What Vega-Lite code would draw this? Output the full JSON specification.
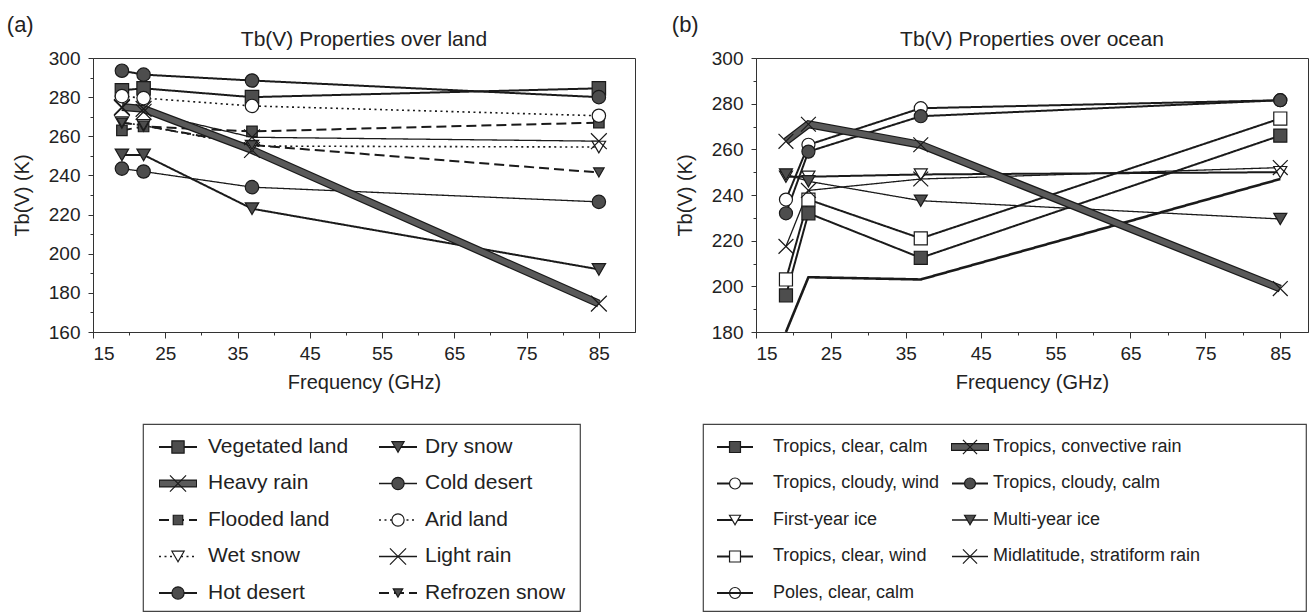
{
  "$schema": "https://vega.github.io/schema/vega-lite/v6.json",
  "background": "white",
  "padding": {"left": 6, "top": 13, "right": 0, "bottom": 0},
  "config": {
    "font": "Liberation Sans",
    "view": {"stroke": "#333", "strokeWidth": 1},
    "axis": {"labelFont": "Liberation Sans", "titleFont": "Liberation Sans", "labelFontSize": 19, "titleFontSize": 20, "titleFontWeight": "normal", "labelColor": "#222", "titleColor": "#222", "domainColor": "#333", "tickColor": "#333", "grid": false},
    "title": {"font": "Liberation Sans", "fontSize": 21, "fontWeight": "normal", "color": "#222"}
  },
  "datasets": {
    "land": [
      {"series": "Vegetated land", "freq": 19, "tb": 283.5}, {"series": "Vegetated land", "freq": 22, "tb": 284.5}, {"series": "Vegetated land", "freq": 37, "tb": 280}, {"series": "Vegetated land", "freq": 85, "tb": 284.5},
      {"series": "Heavy rain", "freq": 19, "tb": 275}, {"series": "Heavy rain", "freq": 22, "tb": 274}, {"series": "Heavy rain", "freq": 37, "tb": 253}, {"series": "Heavy rain", "freq": 85, "tb": 174.5},
      {"series": "Flooded land", "freq": 19, "tb": 263}, {"series": "Flooded land", "freq": 22, "tb": 265}, {"series": "Flooded land", "freq": 37, "tb": 262.5}, {"series": "Flooded land", "freq": 85, "tb": 267},
      {"series": "Wet snow", "freq": 19, "tb": 267}, {"series": "Wet snow", "freq": 22, "tb": 265.5}, {"series": "Wet snow", "freq": 37, "tb": 255}, {"series": "Wet snow", "freq": 85, "tb": 254.5},
      {"series": "Hot desert", "freq": 19, "tb": 293.5}, {"series": "Hot desert", "freq": 22, "tb": 291.5}, {"series": "Hot desert", "freq": 37, "tb": 288.5}, {"series": "Hot desert", "freq": 85, "tb": 280},
      {"series": "Dry snow", "freq": 19, "tb": 250.5}, {"series": "Dry snow", "freq": 22, "tb": 250.5}, {"series": "Dry snow", "freq": 37, "tb": 223}, {"series": "Dry snow", "freq": 85, "tb": 192},
      {"series": "Cold desert", "freq": 19, "tb": 243.5}, {"series": "Cold desert", "freq": 22, "tb": 242}, {"series": "Cold desert", "freq": 37, "tb": 234}, {"series": "Cold desert", "freq": 85, "tb": 226.5},
      {"series": "Arid land", "freq": 19, "tb": 280.5}, {"series": "Arid land", "freq": 22, "tb": 279.5}, {"series": "Arid land", "freq": 37, "tb": 275.5}, {"series": "Arid land", "freq": 85, "tb": 270.5},
      {"series": "Light rain", "freq": 19, "tb": 274.5}, {"series": "Light rain", "freq": 22, "tb": 272.5}, {"series": "Light rain", "freq": 37, "tb": 259.5}, {"series": "Light rain", "freq": 85, "tb": 257.5},
      {"series": "Refrozen snow", "freq": 19, "tb": 267}, {"series": "Refrozen snow", "freq": 22, "tb": 265.5}, {"series": "Refrozen snow", "freq": 37, "tb": 255.5}, {"series": "Refrozen snow", "freq": 85, "tb": 241.5}
    ],
    "ocean": [
      {"series": "Tropics, clear, calm", "freq": 19, "tb": 196}, {"series": "Tropics, clear, calm", "freq": 22, "tb": 232}, {"series": "Tropics, clear, calm", "freq": 37, "tb": 212.5}, {"series": "Tropics, clear, calm", "freq": 85, "tb": 266},
      {"series": "Tropics, cloudy, wind", "freq": 19, "tb": 238}, {"series": "Tropics, cloudy, wind", "freq": 22, "tb": 262}, {"series": "Tropics, cloudy, wind", "freq": 37, "tb": 278}, {"series": "Tropics, cloudy, wind", "freq": 85, "tb": 281.5},
      {"series": "First-year ice", "freq": 19, "tb": 248}, {"series": "First-year ice", "freq": 22, "tb": 248}, {"series": "First-year ice", "freq": 37, "tb": 249}, {"series": "First-year ice", "freq": 85, "tb": 250},
      {"series": "Tropics, clear, wind", "freq": 19, "tb": 203}, {"series": "Tropics, clear, wind", "freq": 22, "tb": 238}, {"series": "Tropics, clear, wind", "freq": 37, "tb": 221}, {"series": "Tropics, clear, wind", "freq": 85, "tb": 273.5},
      {"series": "Poles, clear, calm", "freq": 19, "tb": 180}, {"series": "Poles, clear, calm", "freq": 22, "tb": 204}, {"series": "Poles, clear, calm", "freq": 37, "tb": 203}, {"series": "Poles, clear, calm", "freq": 85, "tb": 247},
      {"series": "Tropics, convective rain", "freq": 19, "tb": 263.5}, {"series": "Tropics, convective rain", "freq": 22, "tb": 271}, {"series": "Tropics, convective rain", "freq": 37, "tb": 262}, {"series": "Tropics, convective rain", "freq": 85, "tb": 199},
      {"series": "Tropics, cloudy, calm", "freq": 19, "tb": 232}, {"series": "Tropics, cloudy, calm", "freq": 22, "tb": 259}, {"series": "Tropics, cloudy, calm", "freq": 37, "tb": 274.5}, {"series": "Tropics, cloudy, calm", "freq": 85, "tb": 281.5},
      {"series": "Multi-year ice", "freq": 19, "tb": 249}, {"series": "Multi-year ice", "freq": 22, "tb": 246}, {"series": "Multi-year ice", "freq": 37, "tb": 237.5}, {"series": "Multi-year ice", "freq": 85, "tb": 229.5},
      {"series": "Midlatitude, stratiform rain", "freq": 19, "tb": 217.5}, {"series": "Midlatitude, stratiform rain", "freq": 22, "tb": 242}, {"series": "Midlatitude, stratiform rain", "freq": 37, "tb": 247}, {"series": "Midlatitude, stratiform rain", "freq": 85, "tb": 252}
    ],
    "legA": [
      {"series": "Vegetated land", "col": 1, "row": 1}, {"series": "Heavy rain", "col": 1, "row": 2}, {"series": "Flooded land", "col": 1, "row": 3}, {"series": "Wet snow", "col": 1, "row": 4}, {"series": "Hot desert", "col": 1, "row": 5},
      {"series": "Dry snow", "col": 2, "row": 1}, {"series": "Cold desert", "col": 2, "row": 2}, {"series": "Arid land", "col": 2, "row": 3}, {"series": "Light rain", "col": 2, "row": 4}, {"series": "Refrozen snow", "col": 2, "row": 5}
    ],
    "legB": [
      {"series": "Tropics, clear, calm", "col": 1, "row": 1}, {"series": "Tropics, cloudy, wind", "col": 1, "row": 2}, {"series": "First-year ice", "col": 1, "row": 3}, {"series": "Tropics, clear, wind", "col": 1, "row": 4}, {"series": "Poles, clear, calm", "col": 1, "row": 5},
      {"series": "Tropics, convective rain", "col": 2, "row": 1}, {"series": "Tropics, cloudy, calm", "col": 2, "row": 2}, {"series": "Multi-year ice", "col": 2, "row": 3}, {"series": "Midlatitude, stratiform rain", "col": 2, "row": 4}
    ]
  },
  "vconcat": [
    {
      "hconcat": [
        {
          "title": {"text": "(a)", "anchor": "start", "frame": "bounds", "offset": -8, "dx": -5, "fontSize": 22},
          "vconcat": [
            {
              "title": {"text": "Tb(V) Properties over land", "offset": -1},
              "width": 542, "height": 274,
              "data": {"name": "land"},
              "layer": [
                {
                  "transform": [{"filter": "datum.series !== 'Heavy rain'"}],
                  "mark": {"type": "line", "stroke": "#1a1a1a"},
                  "encoding": {
                    "x": {"field": "freq", "type": "quantitative", "scale": {"domain": [15, 90], "nice": false, "zero": false}, "axis": {"orient": "bottom", "values": [15, 25, 35, 45, 55, 65, 75, 85], "format": "d", "title": "Frequency (GHz)", "tickSize": 6, "labelPadding": 6, "titlePadding": 9, "encode": {"ticks": {"update": {"y": {"value": -5}}}}}},
                    "y": {"field": "tb", "type": "quantitative", "scale": {"domain": [160, 300], "nice": false, "zero": false}, "axis": {"orient": "left", "values": [160, 180, 200, 220, 240, 260, 280, 300], "title": "Tb(V) (K)", "tickSize": 5, "labelPadding": 8, "titlePadding": 16, "encode": {"ticks": {"update": {"x": {"value": 5}}}}}},
                    "detail": {"field": "series", "type": "nominal"},
                    "strokeDash": {"field": "series", "type": "nominal", "legend": null, "scale": {"domain": ["Vegetated land","Heavy rain","Flooded land","Wet snow","Hot desert","Dry snow","Cold desert","Arid land","Light rain","Refrozen snow","Tropics, clear, calm","Tropics, cloudy, wind","First-year ice","Tropics, clear, wind","Poles, clear, calm","Tropics, convective rain","Tropics, cloudy, calm","Multi-year ice","Midlatitude, stratiform rain"], "range": [[1,0],[1,0],[10,5],[2,3.5],[1,0],[1,0],[1,0],[2,3.5],[1,0],[10,5],[1,0],[1,0],[1,0],[1,0],[1,0],[1,0],[1,0],[1,0],[1,0]]}},
                    "strokeWidth": {"condition": [{"test": "indexof(['Cold desert','Light rain','Multi-year ice','Midlatitude, stratiform rain'], datum.series) >= 0", "value": 1.3}, {"test": "indexof(['Wet snow','Arid land'], datum.series) >= 0", "value": 1.6}, {"test": "datum.series === 'Poles, clear, calm'", "value": 2.6}], "value": 2}
                  }
                },
                {
                  "transform": [{"filter": "datum.series === 'Heavy rain'"}],
                  "mark": {"type": "line", "stroke": "#1a1a1a", "strokeWidth": 8},
                  "encoding": {"x": {"field": "freq", "type": "quantitative", "axis": null}, "y": {"field": "tb", "type": "quantitative", "axis": null}}
                },
                {
                  "transform": [{"filter": "datum.series === 'Heavy rain'"}],
                  "mark": {"type": "line", "stroke": "#5a5a5a", "strokeWidth": 5.5},
                  "encoding": {"x": {"field": "freq", "type": "quantitative", "axis": null}, "y": {"field": "tb", "type": "quantitative", "axis": null}}
                },
                {
                  "mark": {"type": "point", "filled": true, "stroke": "#1a1a1a", "strokeWidth": 1.2, "opacity": 1},
                  "encoding": {
                    "x": {"field": "freq", "type": "quantitative", "axis": {"orient": "bottom", "values": [20, 30, 40, 50, 60, 70, 80], "labels": false, "domain": false, "title": null, "tickSize": 3, "encode": {"ticks": {"update": {"y": {"value": -3}}}}}},
                    "y": {"field": "tb", "type": "quantitative", "axis": {"orient": "left", "values": [170, 190, 210, 230, 250, 270, 290], "labels": false, "domain": false, "title": null, "tickSize": 3, "encode": {"ticks": {"update": {"x": {"value": 3}}}}}},
                    "shape": {"field": "series", "type": "nominal", "legend": null, "scale": {"domain": ["Vegetated land","Heavy rain","Flooded land","Wet snow","Hot desert","Dry snow","Cold desert","Arid land","Light rain","Refrozen snow","Tropics, clear, calm","Tropics, cloudy, wind","First-year ice","Tropics, clear, wind","Poles, clear, calm","Tropics, convective rain","Tropics, cloudy, calm","Multi-year ice","Midlatitude, stratiform rain"], "range": ["square","M-1,-1L1,1M-1,1L1,-1","square","triangle-down","circle","triangle-down","circle","circle","M-1,-1L1,1M-1,1L1,-1","triangle-down","square","circle","triangle-down","square","circle","M-1,-1L1,1M-1,1L1,-1","circle","triangle-down","M-1,-1L1,1M-1,1L1,-1"]}},
                    "fill": {"field": "series", "type": "nominal", "legend": null, "scale": {"domain": ["Vegetated land","Heavy rain","Flooded land","Wet snow","Hot desert","Dry snow","Cold desert","Arid land","Light rain","Refrozen snow","Tropics, clear, calm","Tropics, cloudy, wind","First-year ice","Tropics, clear, wind","Poles, clear, calm","Tropics, convective rain","Tropics, cloudy, calm","Multi-year ice","Midlatitude, stratiform rain"], "range": ["#4d4d4d","transparent","#4d4d4d","white","#4d4d4d","#4d4d4d","#4d4d4d","white","transparent","#4d4d4d","#4d4d4d","white","white","white","transparent","transparent","#4d4d4d","#4d4d4d","transparent"]}},
                    "size": {"condition": [{"test": "indexof(['Flooded land','Refrozen snow'], datum.series) >= 0", "value": 110}, {"test": "indexof(['Heavy rain','Light rain','Tropics, convective rain','Midlatitude, stratiform rain'], datum.series) >= 0", "value": 250}], "value": 180}
                  }
                }
              ],
              "resolve": {"axis": {"x": "independent", "y": "independent"}}
            }
          ]
        },
        {
          "title": {"text": "(b)", "anchor": "start", "frame": "bounds", "offset": -8, "dx": -3, "fontSize": 22},
          "vconcat": [
            {
              "title": {"text": "Tb(V) Properties over ocean", "offset": -1},
              "width": 552, "height": 274,
              "data": {"name": "ocean"},
              "layer": [
                {
                  "transform": [{"filter": "datum.series !== 'Tropics, convective rain'"}],
                  "mark": {"type": "line", "stroke": "#1a1a1a", "clip": true},
                  "encoding": {
                    "x": {"field": "freq", "type": "quantitative", "scale": {"domain": [15, 88.7], "nice": false, "zero": false}, "axis": {"orient": "bottom", "values": [15, 25, 35, 45, 55, 65, 75, 85], "format": "d", "title": "Frequency (GHz)", "tickSize": 6, "labelPadding": 6, "titlePadding": 9, "encode": {"ticks": {"update": {"y": {"value": -5}}}}}},
                    "y": {"field": "tb", "type": "quantitative", "scale": {"domain": [180, 300], "nice": false, "zero": false}, "axis": {"orient": "left", "values": [180, 200, 220, 240, 260, 280, 300], "title": "Tb(V) (K)", "tickSize": 5, "labelPadding": 8, "titlePadding": 16, "encode": {"ticks": {"update": {"x": {"value": 5}}}}}},
                    "detail": {"field": "series", "type": "nominal"},
                    "strokeDash": {"field": "series", "type": "nominal", "legend": null, "scale": {"domain": ["Vegetated land","Heavy rain","Flooded land","Wet snow","Hot desert","Dry snow","Cold desert","Arid land","Light rain","Refrozen snow","Tropics, clear, calm","Tropics, cloudy, wind","First-year ice","Tropics, clear, wind","Poles, clear, calm","Tropics, convective rain","Tropics, cloudy, calm","Multi-year ice","Midlatitude, stratiform rain"], "range": [[1,0],[1,0],[10,5],[2,3.5],[1,0],[1,0],[1,0],[2,3.5],[1,0],[10,5],[1,0],[1,0],[1,0],[1,0],[1,0],[1,0],[1,0],[1,0],[1,0]]}},
                    "strokeWidth": {"condition": [{"test": "indexof(['Cold desert','Light rain','Multi-year ice','Midlatitude, stratiform rain'], datum.series) >= 0", "value": 1.3}, {"test": "indexof(['Wet snow','Arid land'], datum.series) >= 0", "value": 1.6}, {"test": "datum.series === 'Poles, clear, calm'", "value": 2.6}], "value": 2}
                  }
                },
                {
                  "transform": [{"filter": "datum.series === 'Tropics, convective rain'"}],
                  "mark": {"type": "line", "stroke": "#1a1a1a", "strokeWidth": 8},
                  "encoding": {"x": {"field": "freq", "type": "quantitative", "axis": null}, "y": {"field": "tb", "type": "quantitative", "axis": null}}
                },
                {
                  "transform": [{"filter": "datum.series === 'Tropics, convective rain'"}],
                  "mark": {"type": "line", "stroke": "#5a5a5a", "strokeWidth": 5.5},
                  "encoding": {"x": {"field": "freq", "type": "quantitative", "axis": null}, "y": {"field": "tb", "type": "quantitative", "axis": null}}
                },
                {
                  "transform": [{"filter": "datum.series !== 'Poles, clear, calm'"}],
                  "mark": {"type": "point", "filled": true, "stroke": "#1a1a1a", "strokeWidth": 1.2, "opacity": 1},
                  "encoding": {
                    "x": {"field": "freq", "type": "quantitative", "axis": {"orient": "bottom", "values": [20, 30, 40, 50, 60, 70, 80], "labels": false, "domain": false, "title": null, "tickSize": 3, "encode": {"ticks": {"update": {"y": {"value": -3}}}}}},
                    "y": {"field": "tb", "type": "quantitative", "axis": {"orient": "left", "values": [190, 210, 230, 250, 270, 290], "labels": false, "domain": false, "title": null, "tickSize": 3, "encode": {"ticks": {"update": {"x": {"value": 3}}}}}},
                    "shape": {"field": "series", "type": "nominal", "legend": null, "scale": {"domain": ["Vegetated land","Heavy rain","Flooded land","Wet snow","Hot desert","Dry snow","Cold desert","Arid land","Light rain","Refrozen snow","Tropics, clear, calm","Tropics, cloudy, wind","First-year ice","Tropics, clear, wind","Poles, clear, calm","Tropics, convective rain","Tropics, cloudy, calm","Multi-year ice","Midlatitude, stratiform rain"], "range": ["square","M-1,-1L1,1M-1,1L1,-1","square","triangle-down","circle","triangle-down","circle","circle","M-1,-1L1,1M-1,1L1,-1","triangle-down","square","circle","triangle-down","square","circle","M-1,-1L1,1M-1,1L1,-1","circle","triangle-down","M-1,-1L1,1M-1,1L1,-1"]}},
                    "fill": {"field": "series", "type": "nominal", "legend": null, "scale": {"domain": ["Vegetated land","Heavy rain","Flooded land","Wet snow","Hot desert","Dry snow","Cold desert","Arid land","Light rain","Refrozen snow","Tropics, clear, calm","Tropics, cloudy, wind","First-year ice","Tropics, clear, wind","Poles, clear, calm","Tropics, convective rain","Tropics, cloudy, calm","Multi-year ice","Midlatitude, stratiform rain"], "range": ["#4d4d4d","transparent","#4d4d4d","white","#4d4d4d","#4d4d4d","#4d4d4d","white","transparent","#4d4d4d","#4d4d4d","white","white","white","transparent","transparent","#4d4d4d","#4d4d4d","transparent"]}},
                    "size": {"condition": [{"test": "indexof(['Flooded land','Refrozen snow'], datum.series) >= 0", "value": 110}, {"test": "indexof(['Heavy rain','Light rain','Tropics, convective rain','Midlatitude, stratiform rain'], datum.series) >= 0", "value": 220}], "value": 170}
                  }
                }
              ],
              "resolve": {"axis": {"x": "independent", "y": "independent"}}
            }
          ]
        }
      ],
      "spacing": 35
    },
    {
      "hconcat": [
        {"width": 49, "height": 10, "view": {"stroke": null}, "data": {"values": [{}]}, "mark": {"type": "text", "text": ""}},
        {
          "width": 437, "height": 187,
          "data": {"name": "legA"},
          "view": {"stroke": "#444", "strokeWidth": 1.2},
          "encoding": {
            "x": {"field": "col", "type": "quantitative", "scale": {"domain": [0.8409, 2.8273], "nice": false, "zero": false}, "axis": null},
            "y": {"field": "row", "type": "quantitative", "scale": {"domain": [0.3699, 5.4932], "reverse": true, "nice": false, "zero": false}, "axis": null}
          },
          "layer": [
            {
              "transform": [{"filter": "datum.series !== 'Heavy rain'"}],
              "mark": {"type": "rule", "stroke": "#1a1a1a", "xOffset": -19, "x2Offset": 19},
              "encoding": {
                "x2": {"field": "col"},
                "strokeDash": {"field": "series", "type": "nominal", "legend": null, "scale": {"domain": ["Vegetated land","Heavy rain","Flooded land","Wet snow","Hot desert","Dry snow","Cold desert","Arid land","Light rain","Refrozen snow","Tropics, clear, calm","Tropics, cloudy, wind","First-year ice","Tropics, clear, wind","Poles, clear, calm","Tropics, convective rain","Tropics, cloudy, calm","Multi-year ice","Midlatitude, stratiform rain"], "range": [[1,0],[1,0],[10,5],[2,3.5],[1,0],[1,0],[1,0],[2,3.5],[1,0],[10,5],[1,0],[1,0],[1,0],[1,0],[1,0],[1,0],[1,0],[1,0],[1,0]]}},
                "strokeWidth": {"condition": [{"test": "indexof(['Cold desert','Light rain','Multi-year ice','Midlatitude, stratiform rain'], datum.series) >= 0", "value": 1.3}, {"test": "indexof(['Wet snow','Arid land'], datum.series) >= 0", "value": 1.6}, {"test": "datum.series === 'Poles, clear, calm'", "value": 2.6}], "value": 2}
              }
            },
            {
              "transform": [{"filter": "datum.series === 'Heavy rain'"}],
              "mark": {"type": "rule", "stroke": "#1a1a1a", "strokeWidth": 8, "xOffset": -19, "x2Offset": 19},
              "encoding": {"x2": {"field": "col"}}
            },
            {
              "transform": [{"filter": "datum.series === 'Heavy rain'"}],
              "mark": {"type": "rule", "stroke": "#5a5a5a", "strokeWidth": 5.5, "xOffset": -18, "x2Offset": 18},
              "encoding": {"x2": {"field": "col"}}
            },
            {
              "mark": {"type": "point", "filled": true, "stroke": "#1a1a1a", "strokeWidth": 1.2, "opacity": 1},
              "encoding": {
                "shape": {"field": "series", "type": "nominal", "legend": null, "scale": {"domain": ["Vegetated land","Heavy rain","Flooded land","Wet snow","Hot desert","Dry snow","Cold desert","Arid land","Light rain","Refrozen snow","Tropics, clear, calm","Tropics, cloudy, wind","First-year ice","Tropics, clear, wind","Poles, clear, calm","Tropics, convective rain","Tropics, cloudy, calm","Multi-year ice","Midlatitude, stratiform rain"], "range": ["square","M-1,-1L1,1M-1,1L1,-1","square","triangle-down","circle","triangle-down","circle","circle","M-1,-1L1,1M-1,1L1,-1","triangle-down","square","circle","triangle-down","square","circle","M-1,-1L1,1M-1,1L1,-1","circle","triangle-down","M-1,-1L1,1M-1,1L1,-1"]}},
                "fill": {"field": "series", "type": "nominal", "legend": null, "scale": {"domain": ["Vegetated land","Heavy rain","Flooded land","Wet snow","Hot desert","Dry snow","Cold desert","Arid land","Light rain","Refrozen snow","Tropics, clear, calm","Tropics, cloudy, wind","First-year ice","Tropics, clear, wind","Poles, clear, calm","Tropics, convective rain","Tropics, cloudy, calm","Multi-year ice","Midlatitude, stratiform rain"], "range": ["#4d4d4d","transparent","#4d4d4d","white","#4d4d4d","#4d4d4d","#4d4d4d","white","transparent","#4d4d4d","#4d4d4d","white","white","white","transparent","transparent","#4d4d4d","#4d4d4d","transparent"]}},
                "size": {"condition": [{"test": "indexof(['Flooded land','Refrozen snow'], datum.series) >= 0", "value": 90}, {"test": "indexof(['Heavy rain','Light rain','Tropics, convective rain','Midlatitude, stratiform rain'], datum.series) >= 0", "value": 260}], "value": 150}
              }
            },
            {
              "transform": [{"filter": "datum.col === 1"}],
              "mark": {"type": "text", "align": "left", "baseline": "middle", "dx": 30, "fontSize": 21, "color": "#222", "font": "Liberation Sans"},
              "encoding": {"text": {"field": "series"}}
            },
            {
              "transform": [{"filter": "datum.col === 2"}],
              "mark": {"type": "text", "align": "left", "baseline": "middle", "dx": 27, "fontSize": 21, "color": "#222", "font": "Liberation Sans"},
              "encoding": {"text": {"field": "series"}}
            }
          ]
        },
        {"width": 121, "height": 10, "view": {"stroke": null}, "data": {"values": [{}]}, "mark": {"type": "text", "text": ""}},
        {
          "width": 603, "height": 187,
          "data": {"name": "legB"},
          "view": {"stroke": "#444", "strokeWidth": 1.2},
          "encoding": {
            "x": {"field": "col", "type": "quantitative", "scale": {"domain": [0.8638, 3.4298], "nice": false, "zero": false}, "axis": null},
            "y": {"field": "row", "type": "quantitative", "scale": {"domain": [0.3699, 5.4932], "reverse": true, "nice": false, "zero": false}, "axis": null}
          },
          "layer": [
            {
              "transform": [{"filter": "datum.series !== 'Tropics, convective rain'"}],
              "mark": {"type": "rule", "stroke": "#1a1a1a", "xOffset": -18, "x2Offset": 18},
              "encoding": {
                "x2": {"field": "col"},
                "strokeDash": {"field": "series", "type": "nominal", "legend": null, "scale": {"domain": ["Vegetated land","Heavy rain","Flooded land","Wet snow","Hot desert","Dry snow","Cold desert","Arid land","Light rain","Refrozen snow","Tropics, clear, calm","Tropics, cloudy, wind","First-year ice","Tropics, clear, wind","Poles, clear, calm","Tropics, convective rain","Tropics, cloudy, calm","Multi-year ice","Midlatitude, stratiform rain"], "range": [[1,0],[1,0],[10,5],[2,3.5],[1,0],[1,0],[1,0],[2,3.5],[1,0],[10,5],[1,0],[1,0],[1,0],[1,0],[1,0],[1,0],[1,0],[1,0],[1,0]]}},
                "strokeWidth": {"condition": [{"test": "indexof(['Cold desert','Light rain','Multi-year ice','Midlatitude, stratiform rain'], datum.series) >= 0", "value": 1.3}, {"test": "indexof(['Wet snow','Arid land'], datum.series) >= 0", "value": 1.6}], "value": 2}
              }
            },
            {
              "transform": [{"filter": "datum.series === 'Tropics, convective rain'"}],
              "mark": {"type": "rule", "stroke": "#1a1a1a", "strokeWidth": 8, "xOffset": -19, "x2Offset": 19},
              "encoding": {"x2": {"field": "col"}}
            },
            {
              "transform": [{"filter": "datum.series === 'Tropics, convective rain'"}],
              "mark": {"type": "rule", "stroke": "#5a5a5a", "strokeWidth": 5.5, "xOffset": -18, "x2Offset": 18},
              "encoding": {"x2": {"field": "col"}}
            },
            {
              "mark": {"type": "point", "filled": true, "stroke": "#1a1a1a", "strokeWidth": 1.2, "opacity": 1},
              "encoding": {
                "shape": {"field": "series", "type": "nominal", "legend": null, "scale": {"domain": ["Vegetated land","Heavy rain","Flooded land","Wet snow","Hot desert","Dry snow","Cold desert","Arid land","Light rain","Refrozen snow","Tropics, clear, calm","Tropics, cloudy, wind","First-year ice","Tropics, clear, wind","Poles, clear, calm","Tropics, convective rain","Tropics, cloudy, calm","Multi-year ice","Midlatitude, stratiform rain"], "range": ["square","M-1,-1L1,1M-1,1L1,-1","square","triangle-down","circle","triangle-down","circle","circle","M-1,-1L1,1M-1,1L1,-1","triangle-down","square","circle","triangle-down","square","circle","M-1,-1L1,1M-1,1L1,-1","circle","triangle-down","M-1,-1L1,1M-1,1L1,-1"]}},
                "fill": {"field": "series", "type": "nominal", "legend": null, "scale": {"domain": ["Vegetated land","Heavy rain","Flooded land","Wet snow","Hot desert","Dry snow","Cold desert","Arid land","Light rain","Refrozen snow","Tropics, clear, calm","Tropics, cloudy, wind","First-year ice","Tropics, clear, wind","Poles, clear, calm","Tropics, convective rain","Tropics, cloudy, calm","Multi-year ice","Midlatitude, stratiform rain"], "range": ["#4d4d4d","transparent","#4d4d4d","white","#4d4d4d","#4d4d4d","#4d4d4d","white","transparent","#4d4d4d","#4d4d4d","white","white","white","transparent","transparent","#4d4d4d","#4d4d4d","transparent"]}},
                "size": {"condition": [{"test": "indexof(['Heavy rain','Light rain','Tropics, convective rain','Midlatitude, stratiform rain'], datum.series) >= 0", "value": 200}], "value": 120}
              }
            },
            {
              "transform": [{"filter": "datum.col === 1"}],
              "mark": {"type": "text", "align": "left", "baseline": "middle", "dx": 38, "fontSize": 18, "color": "#222", "font": "Liberation Sans"},
              "encoding": {"text": {"field": "series"}}
            },
            {
              "transform": [{"filter": "datum.col === 2"}],
              "mark": {"type": "text", "align": "left", "baseline": "middle", "dx": 23, "fontSize": 18, "color": "#222", "font": "Liberation Sans"},
              "encoding": {"text": {"field": "series"}}
            }
          ]
        }
      ],
      "spacing": 0
    }
  ],
  "spacing": 30
}
